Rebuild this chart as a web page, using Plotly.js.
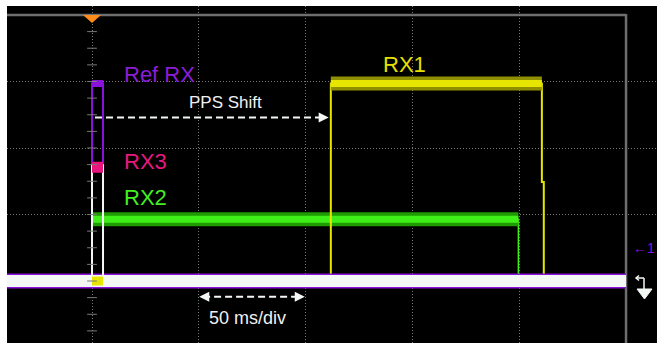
<!DOCTYPE html>
<html>
<head>
<meta charset="utf-8">
<script src="https://cdn.plot.ly/plotly-3.0.1.min.js"></script>
<style>html,body{margin:0;padding:0;background:#fff;}#chart{width:657px;height:343px;}</style>
</head>
<body>
<div id="chart"></div>
<script>
// ---- data (time in ms, level in vertical divisions) ----
const timeRX1  = [-39.8, 111.8, 210.6, 211.5, 250];
const levelRX1 = [0, 2.97, 1.49, 0, 0];
const timeRX2  = [-39.8, 0, 199.6, 250];
const levelRX2 = [0, 0.93, 0, 0];
const timeRef  = [-39.8, 0, 5.15, 250];
const levelRef = [0, 2.97, 0, 0];
const timeRX3  = [-39.8, 0, 5.15, 250];
const levelRX3 = [0, 1.71, 0, 0];
const timeCh4  = [-39.8, 0, 5.15, 250];
const levelCh4 = [0, 1.74, 0, 0];
const timeGlitch  = [0, 5.15];
const levelGlitch = [0, 0];
const xGrid = [0, 50, 100, 150, 200];
const yGrid = [1, 2, 3];
const labels = ["Ref RX", "RX3", "RX2", "RX1"];

// ---- colours ----
const YEL = "#e6e600", YEL_D = "#8f8f00";
const GRN = "#3ff018", GRN_D = "#1f9a00";
const PUR = "#8a12dc";
const PNK = "#e8167c";
const WHT = "#f4f8f4";

function seg(t, v, i, j) { return {x: [t[i], t[j]], y: [v[i], v[i]]}; }
function tr(x, y, color, width, shape) {
  return {x: x, y: y, type: "scatter", mode: "lines", hoverinfo: "skip",
          line: {color: color, width: width, shape: shape || "linear"}};
}

const traces = [];
// RX2 green
traces.push(tr(timeRX2, levelRX2, GRN, 1.5, "hv"));
let s = seg(timeRX2, levelRX2, 1, 2);
traces.push(tr(s.x, s.y, GRN_D, 14));
traces.push(tr(s.x, s.y, GRN, 7));
// RX1 yellow
traces.push(tr(timeRX1, levelRX1, YEL, 2, "hv"));
s = seg(timeRX1, levelRX1, 1, 2);
traces.push(tr(s.x, s.y, YEL_D, 14));
traces.push(tr(s.x, s.y, YEL, 7));
// Ref RX purple
traces.push(tr([timeRef[0], timeRef[timeRef.length-1]], [levelRef[0], levelRef[0]], PUR, 15));
traces.push(tr(timeRef, levelRef, PUR, 2, "hv"));
s = seg(timeRef, levelRef, 1, 2);
traces.push(tr(s.x, s.y, PUR, 7));
// white channel
traces.push(tr(timeCh4, levelCh4, WHT, 2, "hv"));
traces.push(tr([timeCh4[0], timeCh4[timeCh4.length-1]], [levelCh4[0], levelCh4[0]], WHT, 12));
// RX3 pink blob
s = seg(timeRX3, levelRX3, 1, 2);
traces.push(tr(s.x, s.y, PNK, 11));
// RX1 glitch at baseline
traces.push(tr(timeGlitch, levelGlitch, YEL, 9));

// centre axis minor ticks (decoration)
const tickY = [];
for (let k = -3; k <= 16; k++) tickY.push(k * 0.25);
traces.push({x: tickY.map(() => 0), y: tickY, type: "scatter", mode: "markers", hoverinfo: "skip",
  marker: {symbol: "line-ew-open", size: 7, color: "#7a7a7a", line: {color: "#7a7a7a", width: 1}}});

// pixel -> paper helpers for screen decorations
const L = 7, W = 650, H = 337;
const px = p => (p - L) / W;
const py = p => (343 - p) / H;

const FONT = "Liberation Sans, Arial, sans-serif";
function ann(text, x, y, color, size) {
  return {text: text, x: x, y: y, xref: "x", yref: "y", showarrow: false,
          xanchor: "left", yanchor: "middle", font: {family: FONT, size: size, color: color}};
}
function head(x, y, ax) {
  return {text: "", x: x, y: y, xref: "x", yref: "y", showarrow: true, ax: ax, ay: 0,
          arrowhead: 2, arrowsize: 1, arrowwidth: 2, arrowcolor: WHT};
}

const layout = {
  width: 657, height: 343,
  margin: {l: 7, r: 0, t: 6, b: 0, pad: 0},
  paper_bgcolor: "#ffffff", plot_bgcolor: "#000000",
  showlegend: false,
  xaxis: {range: [-39.8, 264.5], tickvals: xGrid, showticklabels: false, ticks: "",
          showgrid: true, gridcolor: "#7a7a7a", gridwidth: 1, griddash: "1px,2px",
          zeroline: false, showline: false, fixedrange: true},
  yaxis: {range: [-0.932, 4.135], tickvals: yGrid, showticklabels: false, ticks: "",
          showgrid: true, gridcolor: "#7a7a7a", gridwidth: 1, griddash: "1px,2px",
          zeroline: false, showline: false, fixedrange: true},
  shapes: [
    {type: "line", xref: "x", yref: "y", x0: -39.8, x1: 250, y0: 4, y1: 4, line: {color: "#6e6e6e", width: 2.5}, layer: "below"},
    {type: "line", xref: "x", yref: "paper", x0: 250, x1: 250, y0: 0, y1: py(14), line: {color: "#6e6e6e", width: 2.5}, layer: "below"},
    {type: "path", xref: "x", yref: "y", xsizemode: "pixel", ysizemode: "pixel", xanchor: 0, yanchor: 4,
     path: "M-9,0 L9,0 L0,-8 Z", fillcolor: "#ff8c1a", line: {width: 0}},
    {type: "line", xref: "x", yref: "y", x0: 1.4, x1: 108.5, y0: 2.46, y1: 2.46, line: {color: WHT, width: 2, dash: "7px,4px"}},
    {type: "line", xref: "x", yref: "y", x0: 52, x1: 98, y0: -0.236, y1: -0.236, line: {color: WHT, width: 2, dash: "7px,4px"}},
    // ground / offset marker on the right
    {type: "line", xref: "paper", yref: "paper", x0: px(636), x1: px(644), y0: py(278), y1: py(278), line: {color: WHT, width: 1.5}},
    {type: "path", xref: "paper", yref: "paper", path: `M${px(639)},${py(275.5)} L${px(636)},${py(278)} L${px(639)},${py(280.5)}`, line: {color: WHT, width: 1.5}},
    {type: "line", xref: "paper", yref: "paper", x0: px(644), x1: px(644), y0: py(278), y1: py(290), line: {color: WHT, width: 1.5}},
    {type: "path", xref: "paper", yref: "paper", path: `M${px(637)},${py(289)} L${px(652)},${py(289)} L${px(644.5)},${py(299)} Z`, fillcolor: WHT, line: {color: WHT, width: 1}}
  ],
  annotations: [
    ann(labels[0], 14.0, 3.10, "#8a1ed8", 22),
    ann(labels[1], 14.0, 1.79, "#e6197f", 22),
    ann(labels[2], 14.0, 1.26, "#44ee22", 22),
    ann(labels[3], 135.3, 3.26, "#e5e000", 22),
    ann("PPS Shift", 44.6, 2.68, "#f0f0f0", 17),
    ann("50 ms/div", 54.0, -0.56, "#f0f0f0", 18),
    head(110.8, 2.46, -7),
    head(50.2, -0.236, 7),
    head(99.6, -0.236, -7),
    {text: "←1", xref: "paper", yref: "paper", x: px(631), y: py(248), showarrow: false,
     xanchor: "left", yanchor: "middle", font: {family: FONT, size: 14, color: "#8a12dc"}}
  ]
};

Plotly.newPlot("chart", traces, layout, {staticPlot: true, displayModeBar: false});
</script>
</body>
</html>
